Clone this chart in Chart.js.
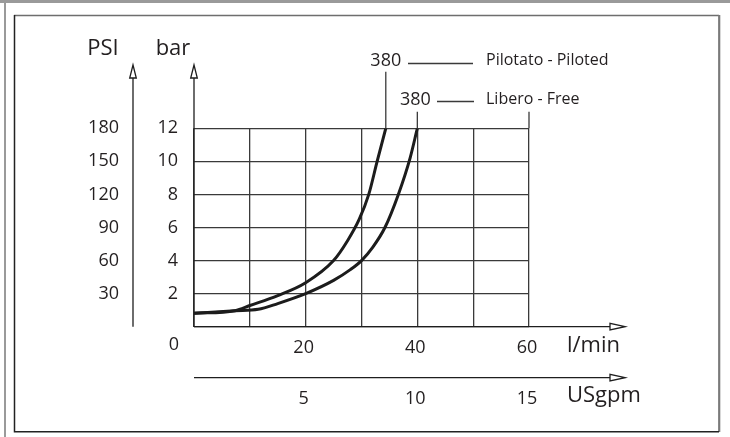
<!DOCTYPE html>
<html>
<head>
<meta charset="utf-8">
<script src="https://cdn.jsdelivr.net/npm/chart.js@4"></script>
<style>
  html, body { margin: 0; padding: 0; background: #fff; }
  #wrap { width: 730px; height: 437px; position: relative; }
</style>
</head>
<body>
<div id="wrap"><canvas id="c" width="730" height="437"></canvas></div>
<script>
// ---- data ----
const lpmTicks = [20, 40, 60];          // l/min labels
const gpmTicks = [5, 10, 15];           // USgpm labels
const barTicks = [2, 4, 6, 8, 10, 12];  // bar labels
const psiTicks = [30, 60, 90, 120, 150, 180]; // PSI labels

const pilotFlow = [0, 7.35, 10, 15, 20, 25, 27.5, 29.6, 31.3, 32.8, 34.35];
const pilotBar  = [0.81, 0.97, 1.28, 1.88, 2.66, 4.0, 5.2, 6.5, 8.0, 10.0, 12.0];

const freeFlow = [0, 7.35, 11.5, 15, 20, 25, 28, 30, 32, 34.2, 36.6, 38.7, 40];
const freeBar  = [0.81, 0.97, 1.05, 1.4, 2.0, 2.8, 3.45, 4.0, 4.8, 6.0, 8.0, 10.2, 12.0];

const seriesNames = ['Pilotato - Piloted', 'Libero - Free'];
const seriesTags  = ['380', '380'];

const FONT = '"Open Sans", "Liberation Sans", sans-serif';
const INK = '#231f20';
const GRID = '#3a3a3a';

function pts(xs, ys) { return xs.map((x, i) => ({ x: x, y: ys[i] })); }

function arrowUp(ctx, x, tipY) {
  ctx.beginPath();
  ctx.moveTo(x, tipY);
  ctx.lineTo(x - 3.3, tipY + 13);
  ctx.lineTo(x + 3.3, tipY + 13);
  ctx.closePath();
  ctx.fillStyle = '#fff'; ctx.fill();
  ctx.stroke();
}
function arrowRight(ctx, tipX, y) {
  ctx.beginPath();
  ctx.moveTo(tipX, y);
  ctx.lineTo(tipX - 15, y - 3.3);
  ctx.lineTo(tipX - 15, y + 3.3);
  ctx.closePath();
  ctx.fillStyle = '#fff'; ctx.fill();
  ctx.stroke();
}

const framePlugin = {
  id: 'frame',
  beforeDraw(chart) {
    const ctx = chart.ctx;
    ctx.save();
    ctx.fillStyle = '#fff';
    ctx.fillRect(0, 0, 730, 437);
    ctx.fillStyle = '#9a9a9a';
    ctx.fillRect(0, 0, 730, 3);
    ctx.fillRect(4, 0, 2, 437);
    ctx.lineWidth = 1.3;
    ctx.strokeStyle = '#6e6e6e';
    ctx.beginPath(); ctx.moveTo(14, 15.5); ctx.lineTo(719, 15.5); ctx.stroke();
    ctx.lineWidth = 2.2; ctx.strokeStyle = '#7a7a7a';
    ctx.beginPath(); ctx.moveTo(719.2, 15); ctx.lineTo(719.2, 432); ctx.stroke();
    ctx.lineWidth = 1.5; ctx.strokeStyle = '#222';
    ctx.beginPath(); ctx.moveTo(14.5, 15); ctx.lineTo(14.5, 431.7); ctx.lineTo(719, 431.7); ctx.stroke();
    ctx.restore();
  },
  afterDraw(chart) {
    const ctx = chart.ctx;
    const xs = chart.scales.x, ys = chart.scales.y, y2 = chart.scales.y2, x2 = chart.scales.x2;
    const x0 = xs.getPixelForValue(0), yb = ys.getPixelForValue(0), yt = ys.getPixelForValue(12);
    ctx.save();
    ctx.strokeStyle = '#1e1e1e';
    ctx.lineWidth = 1.3;
    ctx.beginPath(); ctx.moveTo(x0, yb); ctx.lineTo(x0, 78); ctx.stroke();
    arrowUp(ctx, x0, 65);
    const xp = y2.right;
    ctx.beginPath(); ctx.moveTo(xp, yb); ctx.lineTo(xp, 78); ctx.stroke();
    arrowUp(ctx, xp, 65);
    ctx.beginPath(); ctx.moveTo(x0, yb); ctx.lineTo(610, yb); ctx.stroke();
    arrowRight(ctx, 625, yb);
    const yg = x2.top;
    ctx.beginPath(); ctx.moveTo(x0, yg); ctx.lineTo(610, yg); ctx.stroke();
    arrowRight(ctx, 625, yg);

    ctx.strokeStyle = GRID;
    const pEnd = xs.getPixelForValue(pilotFlow[pilotFlow.length - 1]);
    const fEnd = xs.getPixelForValue(freeFlow[freeFlow.length - 1]);
    const g60 = xs.getPixelForValue(60);
    ctx.beginPath(); ctx.moveTo(pEnd, yt); ctx.lineTo(pEnd, 71.7); ctx.stroke();
    ctx.beginPath(); ctx.moveTo(fEnd, yt); ctx.lineTo(fEnd, 111.7); ctx.stroke();
    ctx.beginPath(); ctx.moveTo(g60, yt); ctx.lineTo(g60, 111.7); ctx.stroke();

    ctx.fillStyle = INK;
    ctx.textBaseline = 'middle';
    ctx.font = '18px ' + FONT;
    ctx.textAlign = 'center';
    ctx.fillText(seriesTags[0], pEnd, 61);
    ctx.fillText(seriesTags[1], fEnd - 2, 99.5);
    ctx.beginPath(); ctx.moveTo(408, 63.5); ctx.lineTo(473, 63.5); ctx.stroke();
    ctx.beginPath(); ctx.moveTo(437, 101.5); ctx.lineTo(474, 101.5); ctx.stroke();
    ctx.font = '16px ' + FONT;
    ctx.textAlign = 'left';
    ctx.fillText(seriesNames[0], 486, 60.5);
    ctx.fillText(seriesNames[1], 486, 99);

    ctx.font = '22px ' + FONT;
    ctx.textAlign = 'center';
    ctx.fillText('PSI', 103, 49);
    ctx.fillText('bar', 173, 49);
    ctx.textAlign = 'left';
    ctx.fillText('l/min', 567, 346);
    ctx.fillText('USgpm', 567, 396);
    ctx.font = '18px ' + FONT;
    ctx.textAlign = 'center';
    ctx.fillText('0', x0 - 20, 344.5);
    ctx.restore();
  }
};

const tickFont = { family: FONT, size: 18 };

new Chart(document.getElementById('c'), {
  type: 'line',
  data: {
    datasets: [
      { label: seriesNames[0], data: pts(pilotFlow, pilotBar), borderColor: '#1c1c1c', borderWidth: 3,
        pointRadius: 0, cubicInterpolationMode: 'monotone', fill: false, xAxisID: 'x', yAxisID: 'y' },
      { label: seriesNames[1], data: pts(freeFlow, freeBar), borderColor: '#1c1c1c', borderWidth: 3,
        pointRadius: 0, cubicInterpolationMode: 'monotone', fill: false, xAxisID: 'x', yAxisID: 'y' }
    ]
  },
  options: {
    responsive: false,
    animation: false,
    events: [],
    layout: { padding: { left: 60, right: 201, top: 128.3, bottom: 19.3 } },
    plugins: { legend: { display: false }, tooltip: { enabled: false }, title: { display: false } },
    scales: {
      x: {
        type: 'linear', position: 'bottom', min: 0, max: 60, weight: 0,
        afterFit: s => { s.height = 51; },
        grid: { color: GRID, lineWidth: 1.3, drawTicks: false },
        border: { display: false },
        ticks: { stepSize: 10, padding: 10.5, labelOffset: -2, color: INK, font: tickFont, maxRotation: 0,
          callback: v => lpmTicks.includes(v) ? String(v) : '' }
      },
      x2: {
        type: 'linear', position: 'bottom', min: 0, max: 15, weight: 1,
        afterFit: s => { s.height = 40; },
        grid: { display: false, drawTicks: false },
        border: { display: false },
        ticks: { stepSize: 5, padding: 10.5, labelOffset: -2, color: INK, font: tickFont, maxRotation: 0,
          callback: v => gpmTicks.includes(v) ? String(v) : '' }
      },
      y: {
        type: 'linear', position: 'left', min: 0, max: 12, weight: 0,
        afterFit: s => { s.width = 61; },
        grid: { color: GRID, lineWidth: 1.3, drawTicks: false },
        border: { display: false },
        ticks: { stepSize: 2, padding: 16, color: INK, font: tickFont,
          callback: v => barTicks.includes(v) ? String(v) : '' }
      },
      y2: {
        type: 'linear', position: 'left', min: 0, max: 180, weight: 1,
        afterFit: s => { s.width = 73; },
        grid: { display: false, drawTicks: false },
        border: { display: false },
        ticks: { stepSize: 30, padding: 14, color: INK, font: tickFont,
          callback: v => psiTicks.includes(v) ? String(v) : '' }
      }
    }
  },
  plugins: [framePlugin]
});
</script>
</body>
</html>
